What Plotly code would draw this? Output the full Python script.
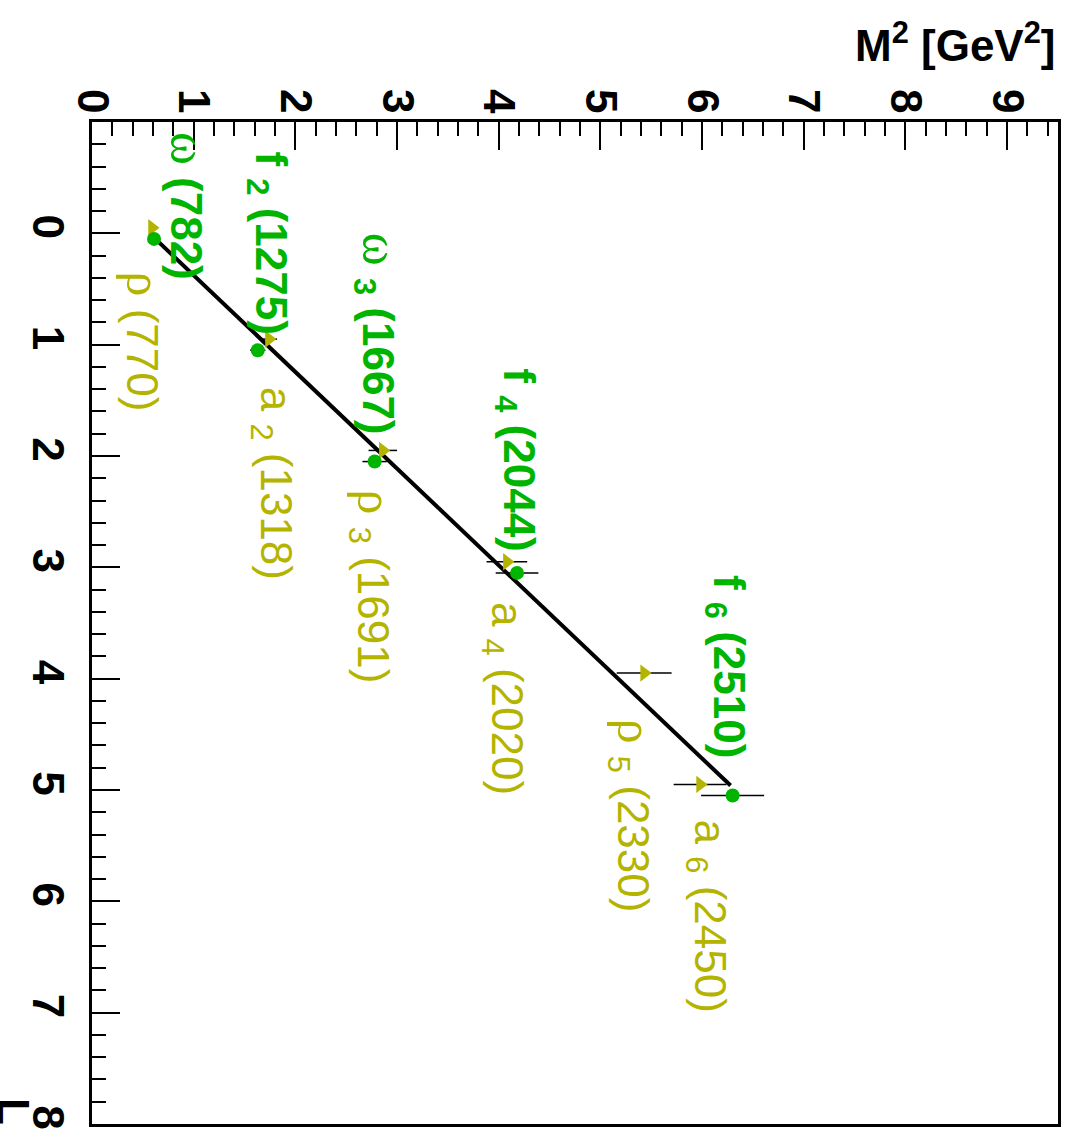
import plotly.graph_objects as go

# ---------------- data ----------------
# isovector family (yellow triangles): rho, a2, rho3, a4, rho5, a6
iv_L = [0, 1, 2, 3, 4, 5]
iv_M2 = [0.59, 1.74, 2.86, 4.08, 5.43, 5.98]
iv_err = [0.03, 0.08, 0.14, 0.20, 0.27, 0.26]

# isoscalar family (green dots): omega, f2, omega3, f4, f6
is_L = [0, 1, 2, 3, 5]
is_M2 = [0.61, 1.63, 2.78, 4.18, 6.30]
is_err = [0.03, 0.075, 0.12, 0.21, 0.31]

# fitted trajectory (line endpoints in M2, L = a + b*M2)
fit_M2 = [0.60, 6.28]
fit_a = -0.491
fit_b = 0.868

# labels: symbol, subscript, mass, x (M2), y (L)
iv_labels = [
    ("ρ", "", "(770)", 0.51, 0.97),
    ("a", "2", "(1318)", 1.78, 2.24),
    ("ρ", "3", "(1691)", 2.76, 3.17),
    ("a", "4", "(2020)", 4.05, 4.18),
    ("ρ", "5", "(2330)", 5.31, 5.23),
    ("a", "6", "(2450)", 6.05, 6.13),
]
is_labels = [
    ("ω", "", "(782)", 0.95, -0.25),
    ("f", "2", "(1275)", 1.73, 0.09),
    ("ω", "3", "(1667)", 2.81, 0.90),
    ("f", "4", "(2044)", 4.17, 2.03),
    ("f", "6", "(2510)", 6.23, 3.89),
]

x_ticks = list(range(0, 10))
y_ticks = list(range(0, 9))

GREEN = "#00b400"
YELLOW = "#b4b400"
FONT = "Liberation Sans"
SHIFT = 0.05  # vertical offset of the two families for visibility

fig = go.Figure()

fit_L = [fit_a + fit_b * m for m in fit_M2]
fig.add_trace(go.Scatter(x=fit_M2, y=fit_L, mode="lines",
                         line=dict(color="black", width=4), showlegend=False))

fig.add_trace(go.Scatter(
    x=iv_M2, y=[l - SHIFT for l in iv_L], mode="markers",
    marker=dict(symbol="triangle-right", size=15, color=YELLOW),
    error_x=dict(type="data", array=iv_err, color="black", thickness=1.5, width=0),
    showlegend=False))

fig.add_trace(go.Scatter(
    x=is_M2, y=[l + SHIFT for l in is_L], mode="markers",
    marker=dict(symbol="circle", size=14, color=GREEN),
    error_x=dict(type="data", array=is_err, color="black", thickness=1.5, width=0),
    showlegend=False))

GREEK = set("ρω")


def make_label(sym, sub, num, bold):
    if sym in GREEK:
        s = (f"<span style='font-family:Liberation Serif;font-weight:normal;"
             f"font-size:50px'>{sym}</span>")
    else:
        s = f"<b>{sym}</b>" if bold else sym
    if sub:
        s += f" <sub>{'<b>'+sub+'</b>' if bold else sub}</sub>"
    s += f"<b> {num}</b>" if bold else f" {num}"
    return s


for sym, sub, num, x, y in iv_labels:
    fig.add_annotation(x=x, y=y, text=make_label(sym, sub, num, False),
                       textangle=90, showarrow=False,
                       font=dict(family=FONT, size=44, color=YELLOW))
for sym, sub, num, x, y in is_labels:
    fig.add_annotation(x=x, y=y, text=make_label(sym, sub, num, True),
                       textangle=90, showarrow=False,
                       font=dict(family=FONT, size=44, color=GREEN))

# axis titles
fig.add_annotation(xref="paper", yref="paper", x=1.0, y=1.0, xanchor="right",
                   yanchor="bottom", yshift=50,
                   text="<b>M<sup>2</sup> [GeV<sup>2</sup>]</b>", showarrow=False,
                   font=dict(family=FONT, size=44, color="black"))
fig.add_annotation(xref="paper", yref="paper", x=0.0, y=0.0, xanchor="center",
                   yanchor="middle", xshift=-78, yshift=13,
                   text="<b>L</b>", textangle=90, showarrow=False,
                   font=dict(family=FONT, size=44, color="black"))

fig.update_xaxes(
    side="top", range=[0, 9.5], tickmode="array", tickvals=x_ticks,
    ticktext=[str(v) for v in x_ticks], tickangle=90,
    ticks="inside", ticklen=28, tickwidth=2, tickcolor="black",
    minor=dict(tickmode="linear", tick0=0, dtick=0.2, ticks="inside",
               ticklen=14, tickwidth=2, tickcolor="black"),
    showline=True, linecolor="black", linewidth=3, mirror=True,
    showgrid=False, zeroline=False, ticklabelstandoff=-10,
    tickfont=dict(family=FONT, size=44, color="black", weight="bold"),
)
fig.update_yaxes(
    range=[8, -1], tickmode="array", tickvals=y_ticks,
    ticktext=[str(v) for v in y_ticks], tickangle=90,
    ticks="inside", ticklen=28, tickwidth=2, tickcolor="black",
    minor=dict(tickmode="linear", tick0=0, dtick=0.2, ticks="inside",
               ticklen=14, tickwidth=2, tickcolor="black"),
    showline=True, linecolor="black", linewidth=3, mirror=True,
    showgrid=False, zeroline=False, ticklabelstandoff=3,
    tickfont=dict(family=FONT, size=44, color="black", weight="bold"),
)

fig.update_layout(
    width=1069, height=1140,
    margin=dict(l=92, r=8, t=122, b=16),
    paper_bgcolor="white", plot_bgcolor="white",
    showlegend=False,
)

fig.write_html("out.html")
